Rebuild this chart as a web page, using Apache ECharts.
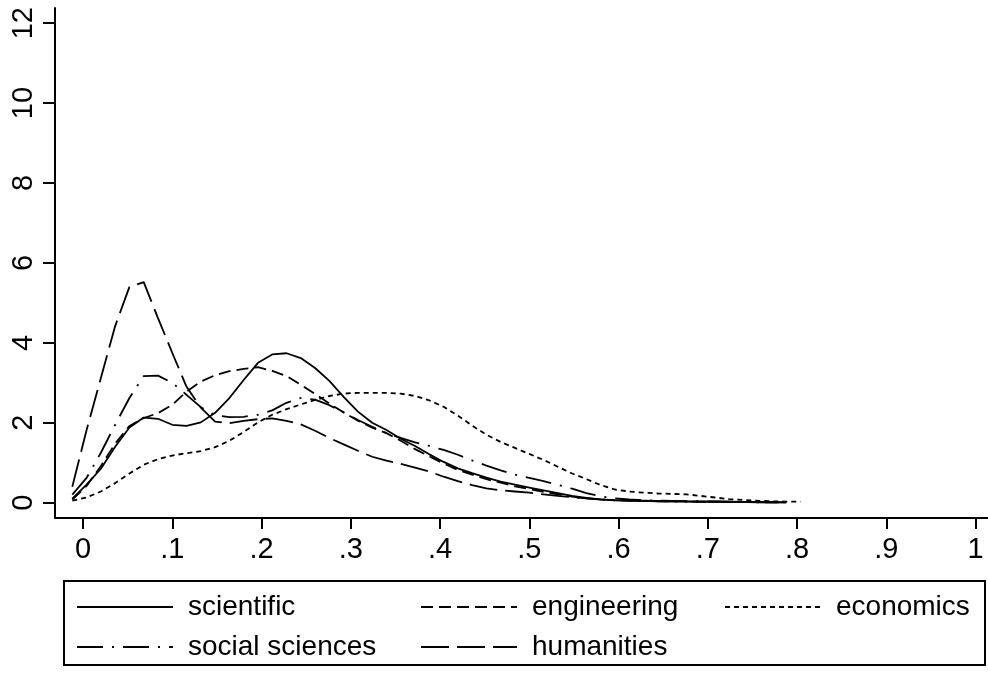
<!DOCTYPE html>
<html>

<head>
    <meta charset="UTF-8">
    <title>kernel density</title>
    <script src="https://cdn.jsdelivr.net/npm/echarts@6/dist/echarts.min.js"></script>
    <style>
        html, body { margin: 0; padding: 0; background: #fff; }
        #chart { width: 988px; height: 673px; }
    </style>
</head>

<body>
    <div id="chart"></div>

    <script>
        // evaluation points of the density estimates
        var xGrid = [-0.012, 0.004, 0.020, 0.036, 0.052, 0.068, 0.084, 0.100, 0.116, 0.132,
            0.148, 0.164, 0.180, 0.196, 0.212, 0.228, 0.244, 0.260, 0.276, 0.292,
            0.308, 0.324, 0.340, 0.356, 0.372, 0.388, 0.404, 0.420, 0.436, 0.452,
            0.468, 0.484, 0.500, 0.516, 0.532, 0.548, 0.564, 0.580, 0.596, 0.612,
            0.628, 0.644, 0.660, 0.676, 0.692, 0.708, 0.724, 0.740, 0.756, 0.772,
            0.788, 0.804];

        var scientific = [0.10, 0.45, 0.85, 1.40, 1.88, 2.13, 2.10, 1.95, 1.92, 2.01,
            2.25, 2.62, 3.07, 3.50, 3.71, 3.74, 3.62, 3.37, 3.05, 2.65,
            2.28, 2.00, 1.82, 1.60, 1.42, 1.21, 1.02, 0.86, 0.74, 0.63,
            0.53, 0.45, 0.38, 0.31, 0.24, 0.17, 0.12, 0.085, 0.065, 0.055,
            0.05, 0.045, 0.04, 0.035, 0.03, 0.03, 0.025, 0.02, 0.02, 0.015,
            0.01, null];

        var engineering = [0.08, 0.42, 0.92, 1.48, 1.92, 2.12, 2.24, 2.45, 2.78, 3.03,
            3.19, 3.29, 3.35, 3.39, 3.30, 3.17, 2.95, 2.72, 2.48, 2.26,
            2.05, 1.88, 1.74, 1.55, 1.34, 1.16, 0.98, 0.82, 0.70, 0.59,
            0.50, 0.41, 0.34, 0.27, 0.21, 0.15, 0.11, 0.08, 0.06, 0.05,
            0.04, 0.035, 0.03, 0.03, 0.025, 0.02, 0.02, 0.015, 0.01, 0.01,
            0.01, null];

        var economics = [0.05, 0.13, 0.28, 0.49, 0.73, 0.95, 1.09, 1.18, 1.24, 1.29,
            1.39, 1.55, 1.77, 2.01, 2.20, 2.34, 2.46, 2.57, 2.67, 2.73,
            2.75, 2.75, 2.75, 2.73, 2.67, 2.56, 2.40, 2.18, 1.93, 1.70,
            1.52, 1.37, 1.22, 1.07, 0.90, 0.73, 0.59, 0.44, 0.33, 0.28,
            0.25, 0.23, 0.22, 0.21, 0.17, 0.13, 0.09, 0.07, 0.05, 0.035,
            0.028, 0.025];

        var socialSciences = [0.20, 0.62, 1.25, 1.95, 2.62, 3.17, 3.18, 3.00, 2.70, 2.39,
            2.19, 2.14, 2.15, 2.20, 2.31, 2.50, 2.62, 2.58, 2.44, 2.26,
            2.07, 1.90, 1.74, 1.62, 1.51, 1.42, 1.32, 1.20, 1.06, 0.93,
            0.81, 0.70, 0.62, 0.54, 0.45, 0.35, 0.24, 0.16, 0.11, 0.08,
            0.06, 0.05, 0.045, 0.04, 0.035, 0.03, 0.025, 0.02, 0.015, 0.01,
            0.01, null];

        var humanities = [0.40, 1.82, 3.12, 4.42, 5.40, 5.52, 4.62, 3.75, 2.90, 2.38,
            2.03, 1.99, 2.05, 2.09, 2.11, 2.05, 1.96, 1.80, 1.62, 1.46,
            1.30, 1.15, 1.05, 0.97, 0.88, 0.78, 0.65, 0.54, 0.44, 0.36,
            0.31, 0.28, 0.25, 0.21, 0.17, 0.14, 0.11, 0.08, 0.06, 0.05,
            0.04, 0.035, 0.03, 0.025, 0.02, 0.02, 0.015, 0.015, 0.01, 0.01,
            0.01, null];

        var xTicks = [0, 0.1, 0.2, 0.3, 0.4, 0.5, 0.6, 0.7, 0.8, 0.9, 1];
        var xTickLabels = ['0', '.1', '.2', '.3', '.4', '.5', '.6', '.7', '.8', '.9', '1'];
        var yTicks = [0, 2, 4, 6, 8, 10, 12];

        var FONT = 'Liberation Sans, Arial, sans-serif';

        function pairs(ys) {
            var out = [];
            for (var i = 0; i < xGrid.length; i++) {
                if (ys[i] !== null) out.push([xGrid[i], ys[i]]);
            }
            return out;
        }

        function lineSeries(name, ys, dash) {
            return {
                name: name,
                type: 'line',
                data: pairs(ys),
                symbol: 'none',
                smooth: false,
                silent: true,
                lineStyle: { color: '#000', width: 1.8, type: dash },
                itemStyle: { color: '#000' },
                emphasis: { disabled: true }
            };
        }

        // one legend per entry so the two rows line up in columns like the original
        function legendItem(left, top, name) {
            return {
                orient: 'horizontal',
                left: left,
                top: top,
                padding: 0,
                itemWidth: 96,
                itemHeight: 1,
                selectedMode: false,
                data: [name],
                itemStyle: { opacity: 0 },
                textStyle: { fontFamily: FONT, fontSize: 28, color: '#000', padding: [0, 0, 0, 10] }
            };
        }

        var chart = echarts.init(document.getElementById('chart'), null, { renderer: 'canvas' });

        var option = {
            backgroundColor: '#fff',
            animation: false,
            grid: { left: 55, right: 0, top: 8, height: 510 },
            xAxis: {
                type: 'value',
                min: -0.0314,
                max: 1.014,
                axisLine: { onZero: false, lineStyle: { color: '#000', width: 2 } },
                axisTick: { customValues: xTicks, length: 11, lineStyle: { color: '#000', width: 2 } },
                axisLabel: {
                    customValues: xTicks,
                    margin: 17,
                    fontFamily: FONT,
                    fontSize: 29,
                    color: '#000',
                    formatter: function (v) {
                        var i = xTicks.indexOf(v);
                        return i >= 0 ? xTickLabels[i] : '';
                    }
                },
                splitLine: { show: false }
            },
            yAxis: {
                type: 'value',
                min: -0.383,
                max: 12.38,
                axisLine: { show: true, onZero: false, lineStyle: { color: '#000', width: 2 } },
                axisTick: { show: true, customValues: yTicks, length: 12, lineStyle: { color: '#000', width: 2 } },
                axisLabel: {
                    customValues: yTicks,
                    rotate: 90,
                    margin: 17,
                    fontFamily: FONT,
                    fontSize: 29,
                    color: '#000'
                },
                splitLine: { show: false }
            },
            legend: [
                legendItem(76, 593, 'scientific'),
                legendItem(76, 633, 'social sciences'),
                legendItem(420, 593, 'engineering'),
                legendItem(420, 633, 'humanities'),
                legendItem(724, 593, 'economics')
            ],
            graphic: [{
                type: 'rect',
                shape: { x: 64, y: 581, width: 921, height: 84 },
                style: { fill: null, stroke: '#000', lineWidth: 2 },
                silent: true
            }],
            series: [
                lineSeries('scientific', scientific, 'solid'),
                lineSeries('engineering', engineering, [12, 6]),
                lineSeries('economics', economics, [5, 4]),
                lineSeries('social sciences', socialSciences, [26, 9, 2, 9]),
                lineSeries('humanities', humanities, [28, 8])
            ]
        };

        chart.setOption(option);
    </script>
</body>

</html>
